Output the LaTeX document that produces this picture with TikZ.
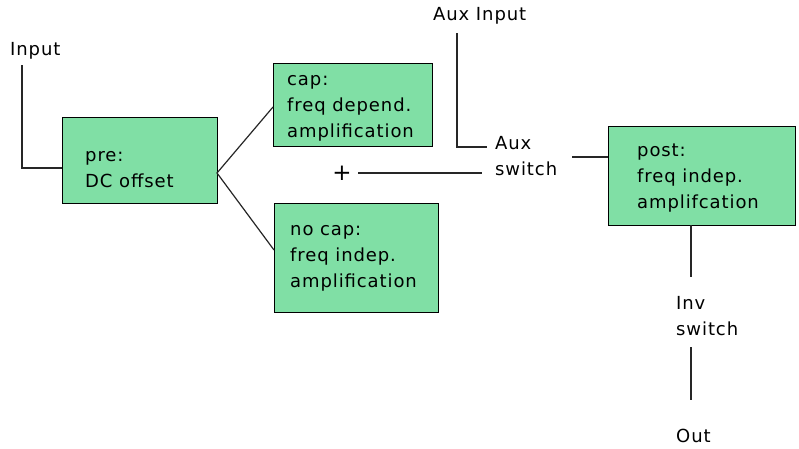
\documentclass[tikz,border=0pt]{standalone}
\usepackage{fontspec}
\setmainfont[LetterSpace=5]{DejaVu Sans}
\definecolor{boxgreen}{RGB}{128,223,165}
\begin{document}
\begin{tikzpicture}[x=1pt,y=-1pt,
  box/.style={draw=black, fill=boxgreen, line width=1.2pt, anchor=north west, inner sep=0pt},
  lbl/.style={anchor=base west, inner sep=0pt, font=\fontsize{18}{26}\selectfont, align=left},
  wire/.style={line width=1.2pt, draw=black!85}]
\useasboundingbox (0,0) rectangle (799,448);
% boxes
\node[box, minimum width=155pt, minimum height=86pt] (pre) at (62,117) {};
\node[box, minimum width=159pt, minimum height=83pt] (cap) at (273,63) {};
\node[box, minimum width=164pt, minimum height=109pt] (nocap) at (274,203) {};
\node[box, minimum width=187pt, minimum height=99pt] (post) at (608,126) {};
% box texts (base anchor = baseline of last line)
\node[lbl] (pretxt) at (85,187) {pre:\\DC offset};
\node[lbl] (captxt) at (287,137) {cap:\\freq depend.\\amplification};
\node[lbl] (nocaptxt) at (290,287) {no cap:\\freq indep.\\amplification};
\node[lbl] (posttxt) at (637,208) {post:\\freq indep.\\amplifcation};
% labels
\node[lbl] (input) at (10,55) {Input};
\node[lbl] (auxin) at (433,20) {Aux Input};
\node[lbl] (auxsw) at (495,175) {Aux\\switch};
\node[lbl] (invsw) at (676,335) {Inv\\switch};
\node[lbl] (out) at (676,442) {Out};
\node[inner sep=0pt, font=\fontsize{23}{26}\selectfont] (plus) at (342,173) {+};
% coordinates
\coordinate (intop) at (22,65);
\coordinate (inbend) at (22,168);
\coordinate (split) at (217,173);
\coordinate (capin) at (273,107);
\coordinate (nocapin) at (274,250);
\coordinate (pstart) at (358,173);
\coordinate (pend) at (482,173);
\coordinate (auxtop) at (457,33);
\coordinate (auxbend) at (457,147);
\coordinate (auxend) at (487,147);
\coordinate (swout) at (572,157);
\coordinate (postin) at (608,157);
\coordinate (postout) at (691,225);
\coordinate (invtop) at (691,277);
\coordinate (invbot) at (691,347);
\coordinate (outtop) at (691,400);
% wires
\draw[wire] (intop) -- (inbend) -- (inbend -| pre.west);
\draw[wire] (capin) -- (split) -- (nocapin);
\draw[wire] (pstart) -- (pend);
\draw[wire] (auxtop) -- (auxbend) -- (auxend);
\draw[wire] (swout) -- (postin);
\draw[wire] (postout) -- (invtop);
\draw[wire] (invbot) -- (outtop);
\end{tikzpicture}
\end{document}
